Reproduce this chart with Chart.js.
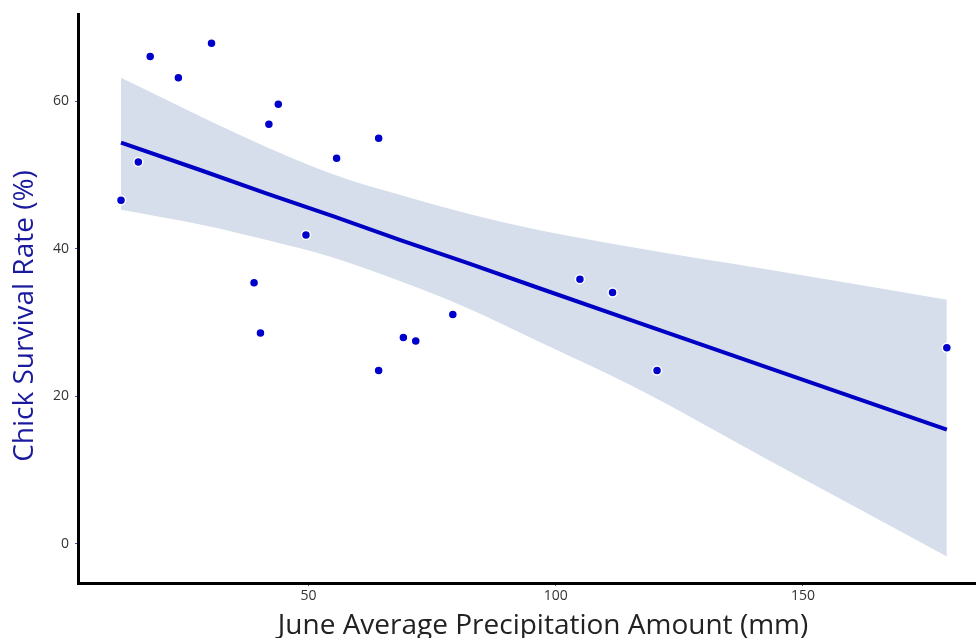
<!DOCTYPE html>
<html>
<head>
<meta charset="utf-8">
<script src="https://cdn.jsdelivr.net/npm/chart.js@4/dist/chart.umd.min.js"></script>
<style>
  html, body { margin: 0; padding: 0; background: #fff; overflow: hidden; }
  #wrap { width: 976px; height: 638px; overflow: hidden; position: relative; }
  canvas { display: block; }
</style>
</head>
<body>
<div id="wrap"><canvas id="c" width="982" height="638"></canvas></div>
<script>
// Observations
const precip   = [12.1, 15.6, 18.0, 23.7, 30.4, 39.0, 40.3, 42.0, 43.9, 49.5, 55.7, 64.2, 64.2, 69.2, 71.7, 79.2, 104.9, 111.5, 120.5, 179.1];
const survival = [46.6, 51.8, 66.1, 63.2, 67.9, 35.4, 28.6, 56.9, 59.6, 41.9, 52.3, 55.0, 23.5, 28.0, 27.5, 31.1, 35.9, 34.1, 23.5, 26.6];

// Fitted line and confidence band
const fitX      = [12.1, 28.1, 41.6, 55.1, 68.6, 82.1, 97.0, 115.8, 142.9, 179.1];
const fitY      = [54.4, 50.7, 47.5, 44.4, 41.2, 38.1, 34.6, 30.2, 23.9, 15.5];
const bandUpper = [63.2, 58.0, 53.8, 50.1, 47.3, 44.8, 42.5, 40.2, 37.2, 33.1];
const bandLower = [45.3, 43.3, 41.2, 38.8, 35.6, 32.0, 27.3, 21.3, 11.4, -1.7];

// Tick labels and axis titles
const xTicks = [50, 100, 150];
const yTicks = [0, 20, 40, 60];
const xTitle = 'June Average Precipitation Amount (mm)';
const yTitle = 'Chick Survival Rate (%)';

const pts = (xs, ys) => xs.map((x, i) => ({ x: x, y: ys[i] }));

const FONT = "'Open Sans', 'Noto Sans', sans-serif";

// Axis titles, placed as in the reference (offset from the plot centre)
const axisTitles = {
  id: 'axisTitles',
  afterDraw(chart) {
    const ctx = chart.ctx;
    ctx.save();
    ctx.font = "28px " + FONT;
    ctx.textAlign = 'center';
    ctx.textBaseline = 'alphabetic';
    ctx.fillStyle = '#222222';
    ctx.fillText(xTitle, 543, 634);
    ctx.translate(33, 316);
    ctx.rotate(-Math.PI / 2);
    ctx.fillStyle = '#1a1a9e';
    ctx.fillText(yTitle, 0, 0);
    ctx.restore();
  }
};

new Chart(document.getElementById('c'), {
  type: 'scatter',
  data: {
    datasets: [
      {
        label: 'upper',
        data: pts(fitX, bandUpper),
        showLine: true,
        borderWidth: 0,
        borderColor: 'rgba(0,0,0,0)',
        pointRadius: 0,
        backgroundColor: '#d5deea',
        cubicInterpolationMode: 'monotone',
        fill: '+1',
        order: 3
      },
      {
        label: 'lower',
        data: pts(fitX, bandLower),
        showLine: true,
        borderWidth: 0,
        borderColor: 'rgba(0,0,0,0)',
        pointRadius: 0,
        cubicInterpolationMode: 'monotone',
        fill: false,
        order: 4
      },
      {
        label: 'fit',
        data: pts(fitX, fitY),
        showLine: true,
        borderColor: '#0000c4',
        borderWidth: 4,
        pointRadius: 0,
        fill: false,
        order: 1
      },
      {
        label: 'obs',
        data: pts(precip, survival),
        pointRadius: 4.5,
        pointBackgroundColor: '#0000cc',
        pointBorderColor: '#ffffff',
        pointBorderWidth: 1.5,
        order: 0
      }
    ]
  },
  plugins: [axisTitles],
  options: {
    responsive: false,
    animation: false,
    devicePixelRatio: 1,
    layout: { padding: { top: 13, right: 0, left: 0, bottom: 0 } },
    plugins: { legend: { display: false }, tooltip: { enabled: false } },
    scales: {
      x: {
        type: 'linear',
        min: 3.4,
        max: 185,
        afterBuildTicks: s => { s.ticks = xTicks.map(v => ({ value: v })); },
        afterFit: s => { s.height = 55; },
        grid: { display: true, drawOnChartArea: false, color: 'rgba(0,0,0,0)', tickColor: '#3b5bb5', tickLength: 3, tickWidth: 1 },
        border: { display: true, color: '#000', width: 3 },
        ticks: { color: '#333', font: { family: FONT, size: 14 }, padding: 2 },
        title: { display: false, text: xTitle }
      },
      y: {
        type: 'linear',
        min: -5.3,
        max: 71.8,
        afterBuildTicks: s => { s.ticks = yTicks.map(v => ({ value: v })); },
        afterFit: s => { s.width = 78; },
        grid: { display: true, drawOnChartArea: false, color: 'rgba(0,0,0,0)', tickColor: '#3b5bb5', tickLength: 3, tickWidth: 1 },
        border: { display: true, color: '#000', width: 3 },
        ticks: { color: '#333', font: { family: FONT, size: 14 }, padding: 6 },
        title: { display: false, text: yTitle }
      }
    }
  }
});
</script>
</body>
</html>
